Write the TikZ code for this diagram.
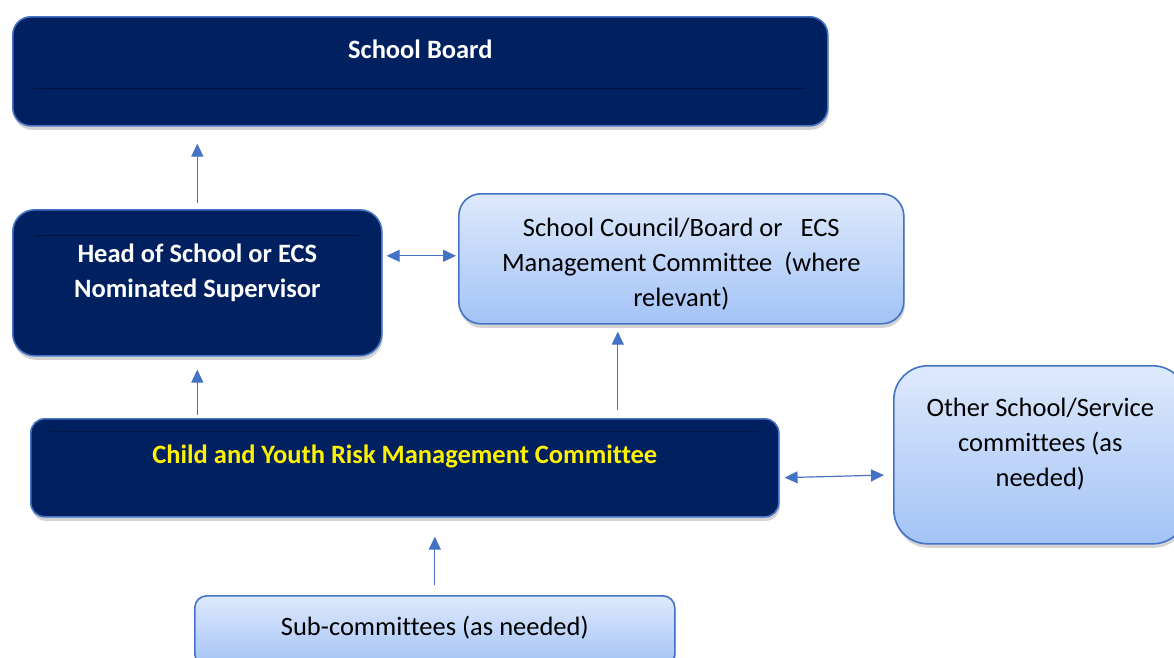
\documentclass[tikz,border=0pt]{standalone}
\usepackage{fontspec}
\setmainfont{Carlito}[Ligatures=NoCommon]
\usepackage{tikz}
\usetikzlibrary{arrows.meta}
\usetikzlibrary{shadows}
\definecolor{navy}{RGB}{0,32,96}
\definecolor{navyline}{RGB}{0,18,62}
\definecolor{edgeblue}{RGB}{68,114,196}
\definecolor{paletop}{RGB}{222,233,252}
\definecolor{palebot}{RGB}{163,195,246}
\tikzset{box/.style = {draw=edgeblue, line width=1.6pt, anchor=north west, inner sep=0,
                       drop shadow={shadow xshift=1pt, shadow yshift=-4pt, opacity=0.35}}}
\tikzset{dark/.style = {box, fill=navy}}
\tikzset{pale/.style = {box, top color=paletop, bottom color=palebot}}
\tikzset{txt/.style = {align=center, font=\fontsize{26.5}{35}\selectfont}}
\tikzset{arr/.style = {draw=edgeblue, line width=1.2pt, -{Triangle[length=13pt,width=12pt]}}}
\tikzset{darr/.style = {arr, {Triangle[length=13pt,width=12pt]}-{Triangle[length=13pt,width=12pt]}}}

\begin{document}
\begin{tikzpicture}[x=1pt, y=-1pt]
  \useasboundingbox (0,0) rectangle (1174,657);
  \node [dark, rounded corners=18, minimum width=815, minimum height=109,
         label={[name=boardtxt, txt, text=white, font=\fontsize{26.5}{35}\selectfont\bfseries, yshift=22.5pt]center:School Board}]
        (board) at (12,16) {};
  \node [dark, rounded corners=22, minimum width=369, minimum height=146,
         label={[name=hostxt, txt, text=white, font=\fontsize{26.5}{35}\selectfont\bfseries, yshift=10.5pt]center:Head of School or ECS\\Nominated Supervisor}]
        (hos) at (12,209) {};
  \node [pale, rounded corners=22, minimum width=445, minimum height=130,
         label={[name=counciltxt, txt, yshift=-5pt]center:School Council/Board or\ \ \ ECS\\Management Committee\ \ (where\\relevant)}]
        (council) at (458,193) {};
  \node [dark, rounded corners=14, minimum width=748, minimum height=98,
         label={[name=childtxt, txt, text=yellow, font=\fontsize{26.5}{35}\selectfont\bfseries, yshift=11pt]center:Child and Youth Risk Management Committee}]
        (child) at (30,418) {};
  \node [pale, rounded corners=34, minimum width=293, minimum height=178,
         label={[name=othertxt, txt, yshift=11pt]center:Other School/Service\\committees (as\\needed)}]
        (other) at (893,365) {};
  \node [pale, rounded corners=12, minimum width=480, minimum height=70,
         label={[name=subtxt, txt, yshift=3pt]center:Sub-committees (as needed)}]
        (sub) at (194,595) {};
  % faint bands inside the dark boxes
  \draw [navyline, line width=0.8pt] (33,88) -- (805,88);
  \draw [navyline, line width=0.6pt] (35,235) -- (358,235);
  \draw [navyline!70!navy, line width=0.6pt] (50,431) -- (760,431);
  % connectors
  \coordinate (cin) at ([xshift=-63.5pt]council.south);
  \draw [arr, shorten <=6pt, shorten >=17pt] (hos.north) -- (hos.north |- board.south);
  \draw [arr, shorten <=3pt, shorten >=13pt] (child.north -| hos.south) -- (hos.south);
  \draw [arr, shorten <=8pt, shorten >=7pt] (child.north -| cin) -- (cin);
  \draw [darr, shorten <=4pt, shorten >=2pt] ([yshift=3pt]council.west -| hos.east) -- ([yshift=3pt]council.west);
  \draw [darr, shorten <=5pt, shorten >=9pt] ([yshift=-10pt]child.east) -- ([yshift=-20pt]other.west);
  \draw [arr, shorten <=10pt, shorten >=19pt] (sub.north) -- (sub.north |- child.south);
\end{tikzpicture}
\end{document}
